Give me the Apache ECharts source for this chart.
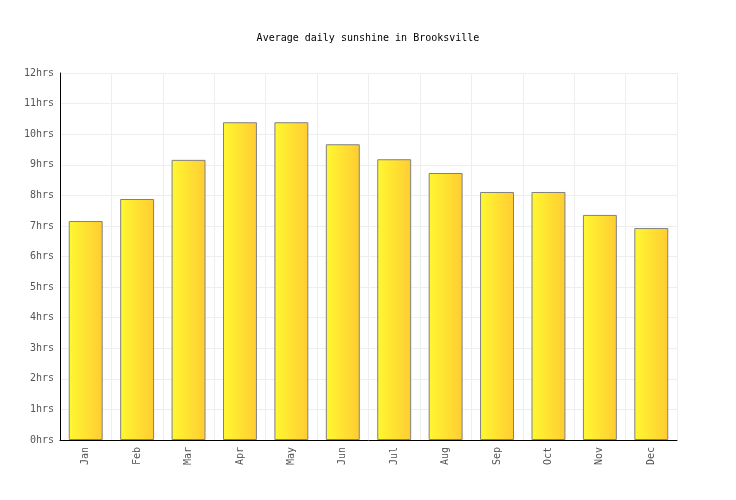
<!DOCTYPE html>
<html>
<head>
<meta charset="utf-8">
<script src="https://cdn.jsdelivr.net/npm/echarts@6/dist/echarts.min.js"></script>
<style>
  html, body { margin: 0; padding: 0; background: #fff; }
  #chart { width: 736px; height: 500px; }
</style>
</head>
<body>
<div id="chart"></div>
<script>
// data
var months = ['Jan', 'Feb', 'Mar', 'Apr', 'May', 'Jun', 'Jul', 'Aug', 'Sep', 'Oct', 'Nov', 'Dec'];
var sunHours = [7.16, 7.88, 9.16, 10.39, 10.39, 9.67, 9.18, 8.73, 8.11, 8.11, 7.36, 6.93];
var yMin = 0, yMax = 12, yStep = 1;

var mono = '"DejaVu Sans Mono", monospace';
var myChart = echarts.init(document.getElementById('chart'));

myChart.setOption({
    animation: false,
    backgroundColor: '#fff',
    title: {
        text: 'Average daily sunshine in Brooksville',
        left: 'center',
        top: 28,
        textStyle: { fontFamily: mono, fontSize: 10, fontWeight: 'normal', color: '#000' }
    },
    grid: { left: 60, right: 59, top: 73, bottom: 60 },
    xAxis: {
        type: 'category',
        data: months,
        boundaryGap: true,
        axisLine: { lineStyle: { color: '#000', width: 1 } },
        axisTick: { show: false },
        axisLabel: {
            rotate: 90,
            fontFamily: mono,
            fontSize: 10,
            color: '#555',
            margin: 7
        },
        splitLine: { show: true, lineStyle: { color: '#eee', width: 1 } }
    },
    yAxis: {
        type: 'value',
        min: yMin,
        max: yMax,
        interval: yStep,
        axisLine: { show: true, lineStyle: { color: '#000', width: 1 } },
        axisTick: { show: false },
        axisLabel: {
            fontFamily: mono,
            fontSize: 10,
            color: '#555',
            margin: 6,
            formatter: function (v) { return v + 'hrs'; }
        },
        splitLine: { lineStyle: { color: '#eee', width: 1 } }
    },
    series: [{
        type: 'bar',
        data: sunHours,
        barWidth: '66%',
        itemStyle: {
            color: new echarts.graphic.LinearGradient(0, 0, 1, 0, [
                { offset: 0, color: '#fff831' },
                { offset: 1, color: '#ffcc33' }
            ]),
            borderColor: '#808080',
            borderWidth: 1
        }
    }]
});
</script>
</body>
</html>
